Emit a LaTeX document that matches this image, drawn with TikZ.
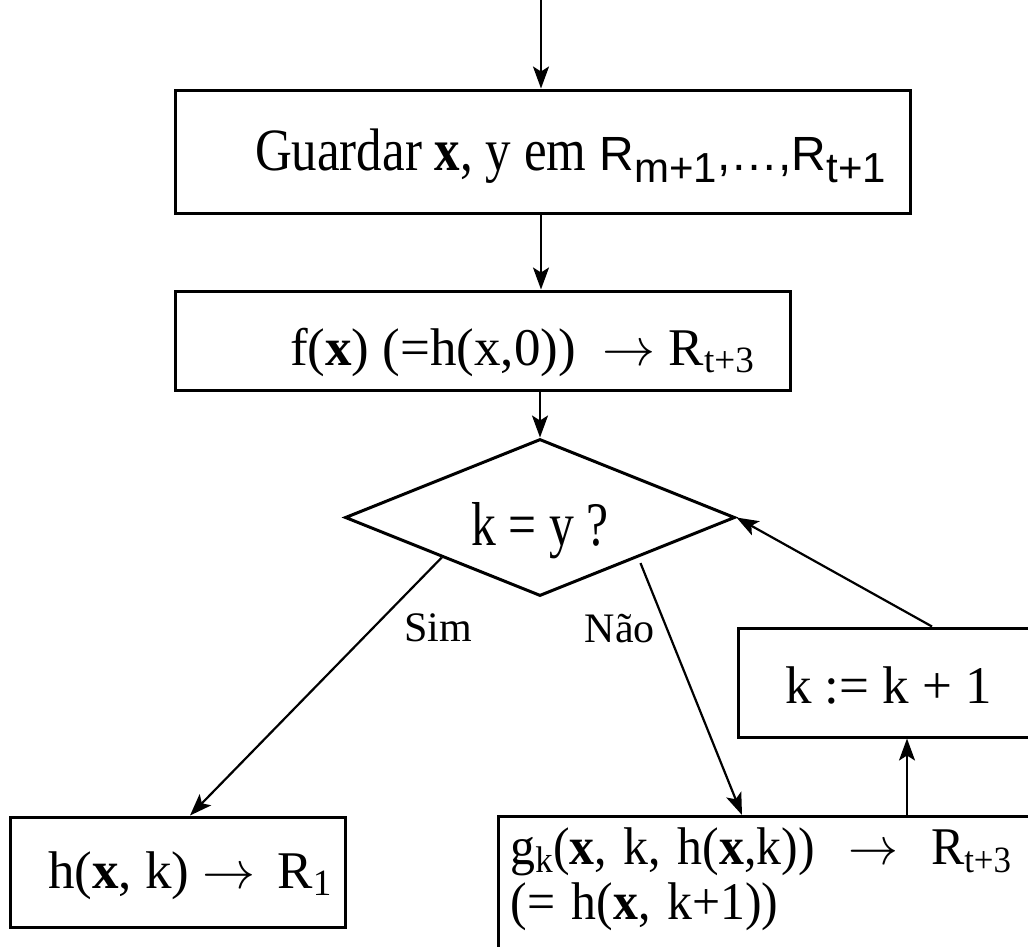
\documentclass[tikz,border=0pt]{standalone}
\usepackage{fix-cm}
\usepackage{fontspec}
\setmainfont{Liberation Serif}
\setsansfont{Liberation Sans}
\usepackage{graphicx}
\usepackage{tikz}
\usetikzlibrary{positioning, shapes.geometric, arrows.meta}

\begin{document}
\begin{tikzpicture}[
        x=1pt, y=-1pt,
        font=\fontsize{53}{52}\selectfont,
        blk/.style={draw, line width=3pt, inner sep=0pt},
        lnk/.style={line width=2.2pt},
        arr/.style={lnk, -{Stealth[length=22pt, width=16pt, inset=5pt]}},
        lbl/.style={inner sep=0pt, font=\fontsize{42}{44}\selectfont},
      ]
        \clip (0,0) rectangle (1028,946);
        \coordinate (in) at (541,0);
        \node[blk, minimum height=123pt, text height=45pt, text depth=8pt] (guardar) at (542.5,151.5)
          {\makebox[735pt][l]{\hspace*{80pt}\scalebox{0.85}[1]{\fontsize{60}{62}\selectfont Guardar \textbf{x}, y em} {\sffamily\fontsize{48}{50}\selectfont R\lower12pt\hbox{\fontsize{42}{44}\selectfont m+1},…,R\lower12pt\hbox{\fontsize{42}{44}\selectfont t+1}}}};
        \node[blk, minimum height=99pt, text height=55pt, text depth=6pt, below right=75pt and 0pt of guardar.south west] (fx)
          {\makebox[615pt][l]{\hspace*{115pt}f(\textbf{x}) (=h(x,0)) \ $\rightarrow$ R\textsubscript{t+3}}};
        \node[draw, diamond, aspect=2.5, line width=3pt, inner sep=0pt, minimum width=390pt, minimum height=157pt, text height=60pt, text depth=5pt] (test) at (540,517.5)
          {\scalebox{0.8}[1]{\fontsize{62}{64}\selectfont k = y ?}};
        \node[blk, minimum height=109pt, text height=46pt, text depth=5pt] (incr) at (888,682.5)
          {\makebox[300pt][l]{\hspace*{47pt}k := k + 1}};
        \node[blk, minimum height=110pt, text height=40pt, text depth=8pt] (result) at (177.5,872)
          {\makebox[335pt][l]{\hspace*{38pt}h(\textbf{x}, k) $\rightarrow$ \,R\textsubscript{1}}};
        \node[blk, anchor=north west, inner ysep=11pt, inner xsep=12pt, text width=620pt, align=left, font=\fontsize{53}{55}\selectfont] (gstep) at (497,815)
          {\scalebox{0.94}[1]{g\textsubscript{k}(\textbf{x}, k, h(\textbf{x},k)) \ $\rightarrow$ \ R\textsubscript{t+3}}\\\scalebox{0.94}[1]{(= h(\textbf{x}, k+1))}\rule[-40pt]{0pt}{40pt}};
        % main column
        \draw[arr] (in) -- (in |- guardar.north);
        \draw[arr] (in |- guardar.south) -- (in |- fx.north);
        \draw[arr] (test.north |- fx.south) -- (test.north);
        % branches
        \draw[arr] (test.south west) -- node[lbl, pos=0.272, right=30pt] {Sim} ([xshift=12.5pt]result.north);
        \draw[arr, shorten <=6pt] (test.south east) -- node[lbl, pos=0.275, left=11pt] {Não} ([xshift=245pt]gstep.north west);
        % loop back
        \draw[arr] ([xshift=410pt]gstep.north west) -- ([xshift=19pt]incr.south);
        \draw[arr] ([xshift=44pt]incr.north) -- (test.east);
      \end{tikzpicture}
\end{document}
